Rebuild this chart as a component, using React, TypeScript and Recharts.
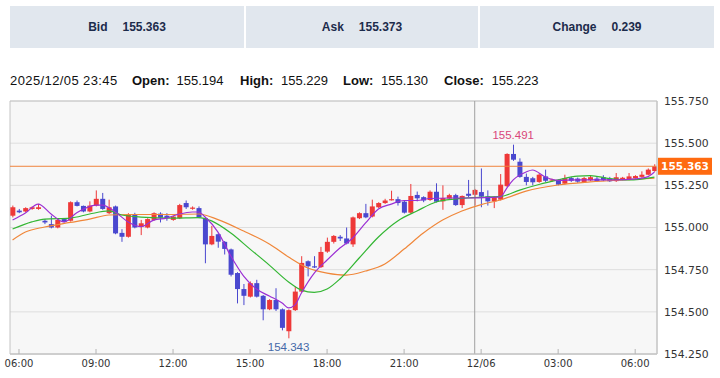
import React from 'react';
import {
  ComposedChart, Bar, Line, XAxis, YAxis, CartesianGrid,
  ReferenceLine, ReferenceDot, ReferenceArea,
} from 'recharts';

// ---- candle data (15-minute candles, 2025/12/05 05:45 -> 2025/12/06 06:45) ----
const opens = [
  155.07, 155.10, 155.095, 155.11, 155.11, 155.04, 155.02, 155.0, 155.05, 155.04,
  155.15, 155.128, 155.095, 155.13, 155.17, 155.085, 155.125, 154.968, 154.945, 155.08,
  155.005, 155.0, 155.045, 155.082, 155.07, 155.045, 155.055, 155.145, 155.112, 155.115,
  155.055, 154.9, 154.96, 154.915, 154.87, 154.73, 154.635, 154.59, 154.67, 154.595,
  154.515, 154.57, 154.515, 154.385, 154.51, 154.62, 154.8, 154.77, 154.765, 154.857,
  154.915, 154.945, 154.935, 154.9, 155.055, 155.085, 155.065, 155.12, 155.145, 155.163,
  155.168, 155.153, 155.088, 155.193, 155.18, 155.163, 155.212, 155.155, 155.172, 155.192,
  155.133, 155.2, 155.194, 155.21, 155.185, 155.155, 155.165, 155.245, 155.436, 155.39,
  155.30, 155.292, 155.27, 155.303, 155.28, 155.278, 155.26, 155.293, 155.29, 155.27,
  155.28, 155.29, 155.298, 155.29, 155.275, 155.285, 155.283, 155.293, 155.3, 155.313,
  155.335,
];
const highs = [
  155.13, 155.11, 155.12, 155.125, 155.14, 155.05, 155.07, 155.05, 155.055, 155.155,
  155.16, 155.13, 155.155, 155.22, 155.205, 155.165, 155.13, 154.99, 155.085, 155.087,
  155.045, 155.055, 155.09, 155.09, 155.085, 155.07, 155.14, 155.16, 155.125, 155.125,
  155.06, 155.01, 154.965, 154.92, 154.875, 154.735, 154.665, 154.68, 154.69, 154.6,
  154.575, 154.64, 154.52, 154.515, 154.65, 154.83, 154.805, 154.83, 154.885, 154.94,
  154.955, 154.955, 155.0, 155.065, 155.09, 155.14, 155.165, 155.15, 155.17, 155.218,
  155.183, 155.16, 155.258, 155.213, 155.185, 155.22, 155.262, 155.25, 155.2, 155.2,
  155.19, 155.282, 155.229, 155.35, 155.22, 155.185, 155.317, 155.44, 155.491, 155.41,
  155.32, 155.3, 155.32, 155.343, 155.29, 155.285, 155.313, 155.3, 155.296, 155.3,
  155.31, 155.3, 155.31, 155.3, 155.323, 155.3, 155.323, 155.31, 155.333, 155.35,
  155.375,
];
const lows = [
  155.06, 155.085, 155.09, 155.105, 155.105, 155.02, 154.995, 154.995, 155.03, 155.035,
  155.125, 155.09, 155.09, 155.125, 155.105, 155.08, 154.96, 154.915, 154.94, 154.995,
  154.955, 154.995, 155.04, 155.03, 155.04, 155.04, 155.05, 155.11, 155.105, 155.055,
  154.788, 154.895, 154.88, 154.84, 154.71, 154.55, 154.54, 154.585, 154.585, 154.45,
  154.51, 154.505, 154.39, 154.343, 154.505, 154.615, 154.71, 154.76, 154.76, 154.85,
  154.905, 154.92, 154.9, 154.885, 155.05, 155.055, 155.06, 155.115, 155.14, 155.16,
  155.13, 155.083, 155.083, 155.155, 155.15, 155.158, 155.148, 155.105, 155.168, 155.128,
  155.115, 155.18, 155.130, 155.12, 155.13, 155.115, 155.16, 155.24, 155.395, 155.295,
  155.25, 155.25, 155.265, 155.27, 155.27, 155.25, 155.255, 155.27, 155.265, 155.265,
  155.275, 155.27, 155.275, 155.27, 155.27, 155.28, 155.28, 155.29, 155.295, 155.31,
  155.33,
];
const closes = [
  155.12, 155.09, 155.115, 155.12, 155.12, 155.03, 155.0, 155.045, 155.033, 155.15,
  155.128, 155.095, 155.13, 155.17, 155.11, 155.12, 154.965, 154.945, 155.08, 155.0,
  155.025, 155.05, 155.085, 155.058, 155.055, 155.065, 155.133, 155.12, 155.118, 155.06,
  154.9, 154.95, 154.916, 154.873, 154.72, 154.635, 154.595, 154.67, 154.59, 154.515,
  154.57, 154.515, 154.405, 154.51, 154.62, 154.79, 154.77, 154.765, 154.855, 154.915,
  154.95, 154.935, 154.905, 155.06, 155.085, 155.06, 155.125, 155.145, 155.16, 155.168,
  155.145, 155.088, 155.187, 155.173, 155.16, 155.212, 155.153, 155.175, 155.192, 155.133,
  155.187, 155.188, 155.223, 155.183, 155.155, 155.18, 155.254, 155.436, 155.402, 155.30,
  155.27, 155.268, 155.313, 155.277, 155.285, 155.254, 155.293, 155.277, 155.272, 155.293,
  155.298, 155.275, 155.28, 155.274, 155.298, 155.295, 155.303, 155.305, 155.313, 155.343,
  155.363,
];

// ---- moving averages: [candle index, value] ----
const maFast: [number, number][] = [
  [0, 155.044], [2, 155.086], [4, 155.139], [6, 155.080], [8, 155.033], [10, 155.088],
  [13, 155.133], [14, 155.133], [16, 155.092], [18, 155.033], [20, 155.005], [22, 155.044],
  [24, 155.056], [26, 155.080], [28, 155.092], [29, 155.092], [30, 155.062], [32, 154.973],
  [34, 154.831], [36, 154.712], [38, 154.635], [40, 154.594], [42, 154.552], [43, 154.523],
  [44, 154.541], [45, 154.612], [47, 154.730], [49, 154.807], [51, 154.878], [53, 154.938],
  [55, 155.027], [57, 155.110], [59, 155.139], [61, 155.160], [63, 155.160], [65, 155.172],
  [68, 155.175], [71, 155.175], [74, 155.178], [76, 155.181], [77, 155.234], [78, 155.282],
  [80, 155.329], [81, 155.341], [83, 155.299], [85, 155.279], [88, 155.282], [91, 155.282],
  [94, 155.282], [97, 155.288], [99, 155.302], [100, 155.329],
];
const maMid: [number, number][] = [
  [0, 154.991], [3, 155.033], [5, 155.050], [9, 155.056], [12, 155.080], [15, 155.098],
  [17, 155.074], [20, 155.062], [25, 155.056], [29, 155.059], [31, 155.039], [34, 154.967],
  [37, 154.872], [40, 154.777], [43, 154.677], [45, 154.629], [47, 154.615], [49, 154.635],
  [51, 154.695], [54, 154.819], [57, 154.944], [60, 155.039], [63, 155.098], [66, 155.151],
  [69, 155.169], [72, 155.178], [76, 155.184], [79, 155.222], [82, 155.255], [85, 155.282],
  [88, 155.305], [90, 155.308], [93, 155.290], [96, 155.282], [100, 155.299],
];
const maSlow: [number, number][] = [
  [0, 154.926], [2, 154.973], [5, 155.003], [9, 155.030], [12, 155.050], [15, 155.074],
  [18, 155.077], [24, 155.077], [29, 155.080], [32, 155.047], [36, 154.979], [40, 154.902],
  [43, 154.825], [46, 154.760], [49, 154.730], [52, 154.718], [55, 154.742], [58, 154.784],
  [61, 154.872], [64, 154.967], [67, 155.044], [70, 155.098], [73, 155.136], [76, 155.163],
  [80, 155.216], [85, 155.252], [90, 155.270], [95, 155.282], [100, 155.292],
];

// ---- axes / header texts ----
const xTickIndex = [1, 13, 25, 37, 49, 61, 73, 85, 97];
const xTickLabels = ['06:00', '09:00', '12:00', '15:00', '18:00', '21:00', '12/06', '03:00', '06:00'];
const yTicks = [154.25, 154.5, 154.75, 155.0, 155.25, 155.5, 155.75];
const headerLabels = ['Bid', 'Ask', 'Change'];
const headerValues = ['155.363', '155.373', '0.239'];
const crossIndex = 72;
const crossTime = '2025/12/05 23:45';

const RED = '#ee3838';
const BLUE = '#4a48cf';
const AXIS_FONT = '"DejaVu Sans", Verdana, sans-serif';
const TEXT_FONT = '"Liberation Sans", Arial, sans-serif';

const toMap = (pts: [number, number][]) => new Map<number, number>(pts);
const fastMap = toMap(maFast);
const midMap = toMap(maMid);
const slowMap = toMap(maSlow);

const data = opens.map((o, i) => ({
  i,
  o,
  h: highs[i],
  l: lows[i],
  c: closes[i],
  range: [lows[i], highs[i]],
  fast: fastMap.has(i) ? fastMap.get(i) : null,
  mid: midMap.has(i) ? midMap.get(i) : null,
  slow: slowMap.has(i) ? slowMap.get(i) : null,
}));

const hiIdx = highs.indexOf(Math.max(...highs));
const loIdx = lows.indexOf(Math.min(...lows));
const lastClose = closes[closes.length - 1];

function Candle(props: any) {
  const { x, y, width, height, payload } = props;
  if (x == null || y == null || !payload) return null;
  const top = Math.min(y, y + height);
  const h = Math.abs(height);
  const hi = payload.h;
  const lo = payload.l;
  const toPix = (v: number) => (hi === lo ? top : top + ((hi - v) / (hi - lo)) * h);
  const up = payload.c >= payload.o;
  const color = up ? RED : BLUE;
  const cx = x + width / 2;
  const yO = toPix(payload.o);
  const yC = toPix(payload.c);
  const bt = Math.min(yO, yC);
  const bh = Math.max(Math.abs(yO - yC), 1.2);
  return (
    <g>
      <line x1={cx} x2={cx} y1={top} y2={top + h} stroke={color} strokeWidth={1} />
      <rect x={x} y={bt} width={width} height={bh} fill={color} />
    </g>
  );
}

function PriceTag(props: any) {
  const vb = props.viewBox || {};
  const right = (vb.x ?? 0) + (vb.width ?? 0);
  const cy = vb.y ?? 0;
  return (
    <g>
      <rect x={right + 1} y={cy - 8.5} width={54} height={17} fill="#ff6a10" />
      <text
        x={right + 28}
        y={cy + 0.5}
        textAnchor="middle"
        dominantBaseline="middle"
        fill="#ffffff"
        fontWeight="bold"
        fontSize={10.5}
        fontFamily={AXIS_FONT}
      >
        {lastClose.toFixed(3)}
      </text>
    </g>
  );
}

const boxLefts = [10, 246, 480];
const boxWidths = [234, 232, 234];

export default function App() {
  const fmtX = (v: number) => {
    const k = xTickIndex.indexOf(v);
    return k >= 0 ? xTickLabels[k] : '';
  };
  return (
    <div
      style={{
        position: 'absolute', left: 0, top: 0, width: 720, height: 378,
        background: '#ffffff', fontFamily: TEXT_FONT, overflow: 'hidden',
      }}
    >
      {headerLabels.map((lab, k) => (
        <div
          key={lab}
          style={{
            position: 'absolute', left: boxLefts[k], top: 6, width: boxWidths[k], height: 42,
            background: '#e1e7ee', display: 'flex', alignItems: 'center', justifyContent: 'center',
            fontWeight: 'bold', fontSize: 12, color: '#1c2b4b',
          }}
        >
          <span>{lab}</span>
          <span style={{ marginLeft: 15 }}>{headerValues[k]}</span>
        </div>
      ))}

      <div style={{ position: 'absolute', top: 72, left: 0, width: 720, height: 18, fontSize: 13, lineHeight: '18px', color: '#111' }}>
        <span style={{ position: 'absolute', left: 10, letterSpacing: 0.4 }}>{crossTime}</span>
        <span style={{ position: 'absolute', left: 132, fontWeight: 'bold' }}>Open:</span>
        <span style={{ position: 'absolute', left: 176.5 }}>{opens[crossIndex].toFixed(3)}</span>
        <span style={{ position: 'absolute', left: 240, fontWeight: 'bold' }}>High:</span>
        <span style={{ position: 'absolute', left: 281 }}>{highs[crossIndex].toFixed(3)}</span>
        <span style={{ position: 'absolute', left: 343, fontWeight: 'bold' }}>Low:</span>
        <span style={{ position: 'absolute', left: 381 }}>{lows[crossIndex].toFixed(3)}</span>
        <span style={{ position: 'absolute', left: 444, fontWeight: 'bold' }}>Close:</span>
        <span style={{ position: 'absolute', left: 491.5 }}>{closes[crossIndex].toFixed(3)}</span>
      </div>

      <div style={{ position: 'absolute', left: 0, top: 0 }}>
        <ComposedChart
          width={720}
          height={378}
          data={data}
          margin={{ top: 101, right: 0, bottom: 0, left: 10 }}
        >
          <CartesianGrid horizontal vertical={false} stroke="#dedede" fill="#f7f7f7" />
          <XAxis
            type="number"
            dataKey="i"
            domain={[-0.4, 100.4]}
            ticks={xTickIndex}
            tickFormatter={fmtX}
            interval={0}
            allowDataOverflow
            axisLine={{ stroke: '#c4c4c4' }}
            tickLine={{ stroke: '#b4b4b4' }}
            tickSize={-5}
            tickMargin={11}
            height={24}
            tick={{ fontSize: 10, fill: '#333', fontFamily: AXIS_FONT }}
          />
          <YAxis
            orientation="right"
            domain={[154.25, 155.75]}
            ticks={yTicks}
            tickFormatter={(v: number) => v.toFixed(3)}
            allowDataOverflow
            axisLine={{ stroke: '#c4c4c4' }}
            tickLine={false}
            tickSize={6}
            tickMargin={1}
            width={63}
            tick={{ fontSize: 10.8, fill: '#333', fontFamily: AXIS_FONT }}
          />
          <ReferenceArea
            x1={-0.4}
            x2={100.4}
            y1={154.25}
            y2={155.75}
            fill="none"
            fillOpacity={0}
            stroke="#c4c4c4"
            strokeWidth={1}
          />
          <ReferenceLine x={crossIndex} stroke="#a0a0a0" strokeWidth={1} />
          <Bar dataKey="range" barSize={5} shape={<Candle />} isAnimationActive={false} />
          <Line type="monotone" dataKey="slow" stroke="#f0873a" strokeWidth={1.2} dot={false} connectNulls isAnimationActive={false} />
          <Line type="monotone" dataKey="mid" stroke="#33b633" strokeWidth={1.2} dot={false} connectNulls isAnimationActive={false} />
          <Line type="monotone" dataKey="fast" stroke="#9b2fd4" strokeWidth={1.2} dot={false} connectNulls isAnimationActive={false} />
          <ReferenceLine
            y={lastClose}
            stroke="#f0843c"
            strokeWidth={1}
            label={{ content: (p: any) => <PriceTag {...p} /> }}
          />
          <ReferenceDot
            x={hiIdx}
            y={highs[hiIdx]}
            r={0}
            fill="none"
            stroke="none"
            label={{ value: highs[hiIdx].toFixed(3), position: 'top', offset: 6, fill: '#d9467a', fontSize: 11.5, fontFamily: TEXT_FONT }}
          />
          <ReferenceDot
            x={loIdx}
            y={lows[loIdx]}
            r={0}
            fill="none"
            stroke="none"
            label={{ value: lows[loIdx].toFixed(3), position: 'bottom', offset: 5, fill: '#4468a8', fontSize: 11.5, fontFamily: TEXT_FONT }}
          />
        </ComposedChart>
      </div>
    </div>
  );
}
